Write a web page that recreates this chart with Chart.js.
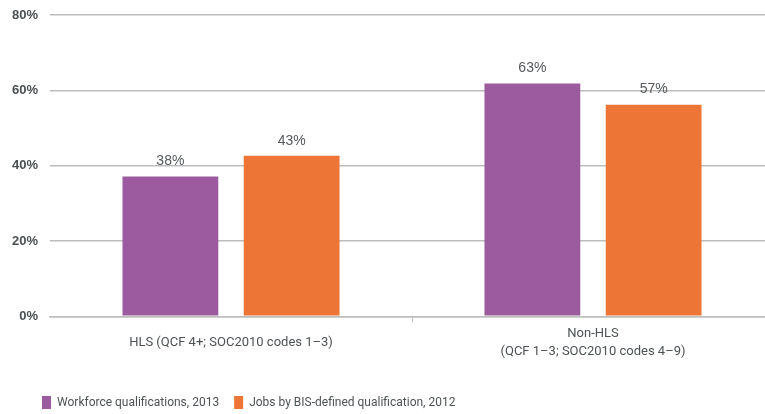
<!DOCTYPE html>
<html lang="en">
<head>
<meta charset="UTF-8">
<title>HLS and Non-HLS qualifications</title>
<script src="https://cdn.jsdelivr.net/npm/chart.js"></script>
<style>
  html, body { margin: 0; padding: 0; background: #fff; overflow: hidden; }
  .chart-container { width: 774px; height: 414px; }
</style>
</head>
<body>
<div class="chart-container"><canvas id="qualChart"></canvas></div>
<script>
// data
const categories = ['HLS (QCF 4+; SOC2010 codes 1–3)', ['Non-HLS', '(QCF 1–3; SOC2010 codes 4–9)']];
const seriesNames = ['Workforce qualifications, 2013', 'Jobs by BIS-defined qualification, 2012'];
const workforce = [37.1, 61.8];
const jobs = [42.6, 56.2];
const workforceText = ['38%', '63%'];
const jobsText = ['43%', '57%'];
const yTicks = [0, 20, 40, 60, 80];

const narrow = 'Roboto, "Liberation Sans", Arial, sans-serif';
const regular = '"Liberation Sans", Arial, sans-serif';
const textGrey = '#4d5255';
const gridGrey = '#bdbdbd';

// value labels above the bars
const valueLabels = {
  id: 'valueLabels',
  afterDatasetsDraw(chart) {
    const ctx = chart.ctx;
    ctx.save();
    ctx.font = '14px ' + regular;
    ctx.fillStyle = '#55595c';
    ctx.textAlign = 'center';
    ctx.textBaseline = 'bottom';
    chart.data.datasets.forEach((ds, i) => {
      chart.getDatasetMeta(i).data.forEach((bar, j) => {
        ctx.fillText(ds.valueText[j], bar.x, bar.y - 8);
      });
    });
    ctx.restore();
  }
};

// nudge the legend right and up
const legendShift = {
  id: 'legendShift',
  afterLayout(chart) {
    chart.legend.left += 27;
    chart.legend.right += 27;
    chart.legend.top -= 1;
    chart.legend.bottom -= 1;
  }
};

new Chart(document.getElementById('qualChart'), {
  type: 'bar',
  data: {
    labels: categories,
    datasets: [
      {
        label: seriesNames[0],
        data: workforce,
        valueText: workforceText,
        backgroundColor: '#9c5b9e',
        borderWidth: 0,
        categoryPercentage: 0.67,
        barPercentage: 0.79
      },
      {
        label: seriesNames[1],
        data: jobs,
        valueText: jobsText,
        backgroundColor: '#ed7636',
        borderWidth: 0,
        categoryPercentage: 0.67,
        barPercentage: 0.79
      }
    ]
  },
  options: {
    responsive: true,
    maintainAspectRatio: false,
    animation: false,
    layout: { padding: { top: 15, left: 0, right: 0, bottom: -6 } },
    plugins: {
      legend: {
        position: 'bottom',
        align: 'start',
        labels: {
          boxWidth: 9,
          boxHeight: 13,
          padding: 15,
          color: textGrey,
          font: { family: narrow, size: 12 }
        }
      },
      tooltip: { enabled: false }
    },
    scales: {
      x: {
        grid: {
          offset: true,
          drawOnChartArea: false,
          tickLength: 6,
          color: c => c.index === 1 ? gridGrey : 'rgba(0,0,0,0)'
        },
        border: { color: gridGrey, width: 1.5 },
        ticks: {
          padding: 11,
          crossAlign: 'center',
          maxRotation: 0,
          autoSkip: false,
          color: textGrey,
          font: { family: narrow, size: 13, lineHeight: 1.45 }
        }
      },
      y: {
        min: 0,
        max: 80,
        afterBuildTicks: axis => { axis.ticks = yTicks.map(v => ({ value: v })); },
        afterFit: axis => { axis.paddingTop = 0; },
        border: { display: false },
        grid: { color: gridGrey, lineWidth: 1.5, drawTicks: false },
        ticks: {
          padding: 12,
          color: '#4b5053',
          font: { family: regular, size: 13, weight: 'bold' },
          callback: v => v + '%'
        }
      }
    }
  },
  plugins: [valueLabels, legendShift]
});
</script>
</body>
</html>
